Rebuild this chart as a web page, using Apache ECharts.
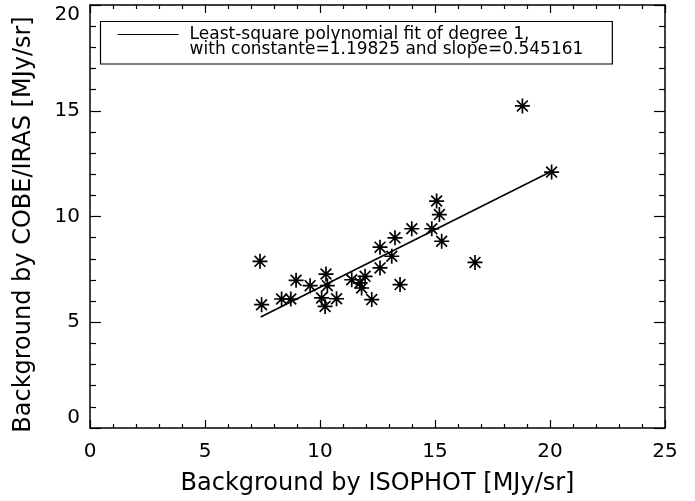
<!DOCTYPE html>
<html><head><meta charset="utf-8">
<script src="https://cdn.jsdelivr.net/npm/echarts@6/dist/echarts.min.js"></script>
<style>html,body{margin:0;padding:0;background:#fff}#c{width:695px;height:501px}</style>
</head><body><div id="c"></div>
<script>
// ISOPHOT background (x) and COBE/IRAS background (y), MJy/sr
const isophot  = [7.39, 7.46, 8.33, 8.73, 8.96, 9.57, 10.26, 10.32, 10.07, 10.22, 10.72, 11.38, 11.74, 11.96, 11.81, 12.25, 12.61, 12.61, 13.26, 13.12, 13.48, 13.99, 15.07, 15.19, 14.86, 15.29, 16.74, 20.07, 18.80];
const cobeIras = [7.88, 5.83, 6.10, 6.10, 6.98, 6.73, 7.28, 6.73, 6.15, 5.75, 6.11, 7.01, 6.86, 7.17, 6.62, 6.07, 7.57, 8.55, 8.99, 8.12, 6.78, 9.42, 10.73, 10.09, 9.42, 8.83, 7.83, 12.10, 15.23];
// fitted line end points
const fitX = [7.42, 20.07];
const fitY = [5.25, 12.14];
// axis ticks
const xTicks = [0, 5, 10, 15, 20, 25];
const yTicks = [0, 5, 10, 15, 20];
const fitLabel = 'Least-square polynomial fit of degree 1,\nwith constante=1.19825 and slope=0.545161';
const xTitle = 'Background by ISOPHOT [MJy/sr]';
const yTitle = 'Background by COBE/IRAS [MJy/sr]';

const FONT = 'DejaVu Sans';
const points = isophot.map((x, i) => [x, cobeIras[i]]);
const fitPoints = fitX.map((x, i) => [x, fitY[i]]);
const star = 'path://M0,-1L0,1M-1,0L1,0M-0.72,-0.72L0.72,0.72M-0.72,0.72L0.72,-0.72';
// legend sample line sits beside the first of the two text lines
const legendIcon = 'path://M0,7.75L61,7.75M0,0L0,0M0,31L0,31';

function xAx(pos, show) {
  return {
    type: 'value', position: pos,
    min: xTicks[0], max: xTicks[xTicks.length - 1], interval: xTicks[1] - xTicks[0],
    name: show ? xTitle : '', nameLocation: 'middle', nameGap: 44,
    nameTextStyle: { fontFamily: FONT, fontSize: 24, color: '#000' },
    axisLine: { show: true, onZero: false, lineStyle: { color: '#000', width: 1.5 } },
    axisTick: { show: true, inside: true, length: 8, lineStyle: { color: '#000', width: 1.2 } },
    minorTick: { show: true, splitNumber: 5, length: 4, lineStyle: { color: '#000', width: 1.2 } },
    splitLine: { show: false },
    axisLabel: { show: show, margin: 14, fontFamily: FONT, fontSize: 20, color: '#000' }
  };
}
function yAx(pos, show) {
  return {
    type: 'value', position: pos,
    min: yTicks[0], max: yTicks[yTicks.length - 1], interval: yTicks[1] - yTicks[0],
    name: show ? yTitle : '', nameLocation: 'middle', nameGap: 54,
    nameTextStyle: { fontFamily: FONT, fontSize: 24, color: '#000', padding: [0, 16, 0, 0] },
    axisLine: { show: true, onZero: false, lineStyle: { color: '#000', width: 1.5 } },
    axisTick: { show: true, inside: true, length: 11, lineStyle: { color: '#000', width: 1.2 } },
    minorTick: { show: true, splitNumber: 5, length: 6, lineStyle: { color: '#000', width: 1.2 } },
    splitLine: { show: false },
    axisLabel: { show: show, margin: 10, fontFamily: FONT, fontSize: 20, color: '#000',
      verticalAlignMaxLabel: 'top', verticalAlignMinLabel: 'bottom' }
  };
}

const chart = echarts.init(document.getElementById('c'), null, { renderer: 'canvas' });
chart.setOption({
  backgroundColor: '#fff',
  animation: false,
  grid: { left: 90, top: 5, width: 575, height: 423, containLabel: false },
  xAxis: [xAx('bottom', true), xAx('top', false)],
  yAxis: [yAx('left', true), yAx('right', false)],
  legend: {
    left: 100.5, top: 21.5,
    data: [fitLabel],
    orient: 'vertical',
    icon: legendIcon,
    symbolKeepAspect: false,
    itemWidth: 61, itemHeight: 31,
    padding: [4.5, 29, 5.5, 16.5],
    borderColor: '#000', borderWidth: 1.2, borderRadius: 0,
    selectedMode: false,
    itemStyle: { color: 'rgba(0,0,0,0)', borderColor: '#000', borderWidth: 1.2 },
    formatter: name => name.split('\n').map(s => '{a|' + s + '}').join('\n'),
    textStyle: { fontFamily: FONT, fontSize: 17, color: '#000',
      rich: {
        a: { fontFamily: FONT, fontSize: 17, lineHeight: 15.5, color: '#000', padding: [0, 0, 0, 6] }
      } }
  },
  series: [
    {
      name: fitLabel, type: 'line', data: fitPoints, symbol: 'none',
      lineStyle: { color: '#000', width: 1.6 }, itemStyle: { color: '#000' }, z: 3
    },
    {
      name: 'data', type: 'scatter', data: points, symbol: star, symbolSize: 15,
      itemStyle: { color: 'rgba(0,0,0,0)', borderColor: '#000', borderWidth: 1.7, opacity: 1 }, z: 4
    }
  ]
});
</script></body></html>
